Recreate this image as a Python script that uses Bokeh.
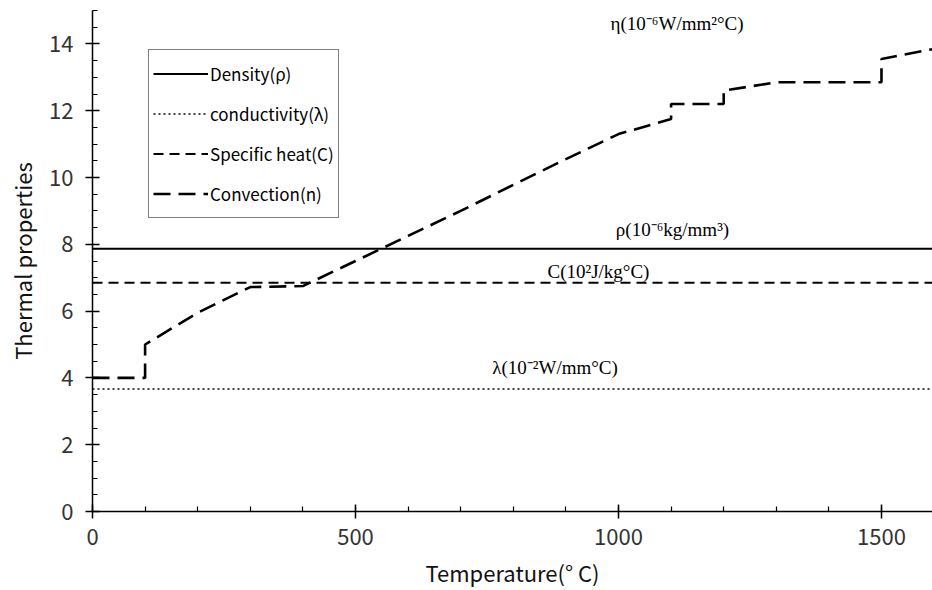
from bokeh.plotting import figure
from bokeh.models import Range1d, SingleIntervalTicker, Legend, LegendItem, Label
from bokeh.embed import file_html
from bokeh.resources import INLINE

# ---- data ----
temperature_conv = [0, 100, 100, 200, 300, 400, 500, 600, 700, 800, 900, 1000,
                    1100, 1100, 1200, 1200, 1300, 1400, 1500, 1500, 1600]
convection = [4.0, 4.0, 5.0, 5.95, 6.72, 6.75, 7.5, 8.25, 9.0, 9.78, 10.55, 11.3,
              11.75, 12.2, 12.2, 12.6, 12.85, 12.85, 12.85, 13.55, 13.85]
temperature_const = [0, 1600]
density = [7.87, 7.87]
specific_heat = [6.85, 6.85]
conductivity = [3.67, 3.67]

legend_labels = ["Density(\u03c1)", "conductivity(\u03bb)", "Specific heat(C)", "Convection(n)"]
annotations = [
    ("\u03b7(10\u207b\u2076W/mm\u00b2\u00b0C)", 985, 14.6),
    ("\u03c1(10\u207b\u2076kg/mm\u00b3)", 995, 8.45),
    ("C(10\u00b2J/kg\u00b0C)", 865, 7.2),
    ("\u03bb(10\u207b\u00b2W/mm\u00b0C)", 760, 4.3),
]
x_label = "Temperature(\u00b0 C)"
y_label = "Thermal properties"

TICK_FONT = "Noto Sans CJK KR"
LEG_FONT = "Noto Sans CJK KR"
ANN_FONT = "Liberation Serif"

p = figure(width=932, height=590, output_backend="svg", toolbar_location=None,
           x_range=Range1d(0, 1597), y_range=Range1d(0, 15),
           min_border_left=92, min_border_right=0, min_border_top=10, min_border_bottom=79)
p.outline_line_color = None
p.xgrid.visible = False
p.ygrid.visible = False
p.background_fill_color = "white"
p.border_fill_color = "white"

for ax, interval, nminor in ((p.xaxis[0], 500, 5), (p.yaxis[0], 2, 4)):
    ax.ticker = SingleIntervalTicker(interval=interval, num_minor_ticks=nminor)
    ax.axis_line_color = "black"
    ax.axis_line_width = 1.5
    ax.major_tick_line_color = "black"
    ax.major_tick_line_width = 1.5
    ax.minor_tick_line_color = "black"
    ax.minor_tick_line_width = 1.2
    ax.major_tick_in = 7
    ax.major_tick_out = 7
    ax.minor_tick_in = 5
    ax.minor_tick_out = 0
    ax.major_label_text_font = TICK_FONT
    ax.major_label_text_font_size = "22px"
    ax.major_label_text_color = "#333333"
    ax.axis_label_text_font = TICK_FONT
    ax.axis_label_text_font_size = "22px"
    ax.axis_label_text_font_style = "normal"
    ax.axis_label_text_color = "#111111"

p.xaxis.major_label_standoff = 10
p.yaxis.major_label_standoff = 12
p.xaxis.axis_label = x_label
p.yaxis.axis_label = y_label
p.xaxis.axis_label_standoff = 8
p.yaxis.axis_label_standoff = 8

r_den = p.line(temperature_const, density, line_color="black", line_width=2)
r_con = p.line(temperature_const, conductivity, line_color="#444444", line_width=2, line_dash="2 3")
r_sh = p.line(temperature_const, specific_heat, line_color="black", line_width=2, line_dash="10 6")
r_cv = p.line(temperature_conv, convection, line_color="black", line_width=2.6, line_dash="17 8")

legend = Legend(items=[LegendItem(label=lab, renderers=[r]) for lab, r in
                       zip(legend_labels, [r_den, r_con, r_sh, r_cv])],
                location=(56, 293), orientation="vertical",
                border_line_color="black", border_line_width=1.2,
                background_fill_color="white", background_fill_alpha=1,
                padding=4, spacing=1, margin=0,
                glyph_width=55, glyph_height=39, label_height=39,
                label_standoff=2,
                label_text_font=LEG_FONT, label_text_font_size="17px",
                label_text_color="black")
p.add_layout(legend)

for txt, xv, yv in annotations:
    p.add_layout(Label(x=xv, y=yv, text=txt, text_font=ANN_FONT, text_font_size="19px",
                       text_baseline="middle", text_align="left", text_color="black"))

open("out.html", "w").write(file_html(p, INLINE))
